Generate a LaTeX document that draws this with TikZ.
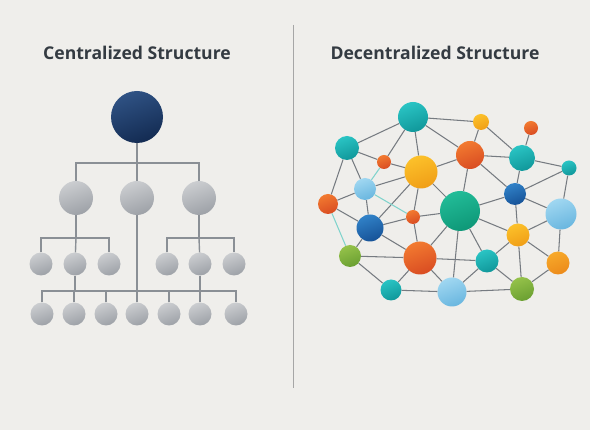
\documentclass[tikz,border=0pt]{standalone}
\usepackage{fontspec}
\setmainfont{Open Sans}
\definecolor{bgc}{HTML}{EFEEEB}
\definecolor{txt}{HTML}{343B42}
\definecolor{treeline}{HTML}{8A8F95}
\definecolor{netline}{HTML}{767B81}
\definecolor{tealline}{HTML}{7FD3CC}
\definecolor{navyT}{HTML}{2F5284}\definecolor{navyB}{HTML}{132B52}
\definecolor{grayT}{HTML}{CBCDD0}\definecolor{grayB}{HTML}{9DA1A7}
\definecolor{tealT}{HTML}{2AC4C4}\definecolor{tealB}{HTML}{10979A}
\definecolor{orngT}{HTML}{F27A30}\definecolor{orngB}{HTML}{D94C22}
\definecolor{yellT}{HTML}{FCC12A}\definecolor{yellB}{HTML}{F09E17}
\definecolor{ambrT}{HTML}{F7A92A}\definecolor{ambrB}{HTML}{EC8A1A}
\definecolor{lbluT}{HTML}{A0D7F1}\definecolor{lbluB}{HTML}{69B6DF}
\definecolor{dbluT}{HTML}{3182C8}\definecolor{dbluB}{HTML}{165297}
\definecolor{grenT}{HTML}{22BC98}\definecolor{grenB}{HTML}{0E9777}
\definecolor{limeT}{HTML}{95C24A}\definecolor{limeB}{HTML}{6A9F31}
\begin{document}
\begin{tikzpicture}[x=1pt,y=-1pt,
  ball/.style n args={3}{circle,inner sep=0pt,minimum size=#1,top color=#2,bottom color=#3,shading angle=20,draw=none},
  navy/.style={ball={#1}{navyT}{navyB}},
  grayb/.style={ball={#1}{grayT}{grayB}},
  teal/.style={ball={#1}{tealT}{tealB}},
  orng/.style={ball={#1}{orngT}{orngB}},
  yell/.style={ball={#1}{yellT}{yellB}},
  amber/.style={ball={#1}{ambrT}{ambrB}},
  lblue/.style={ball={#1}{lbluT}{lbluB}},
  dblue/.style={ball={#1}{dbluT}{dbluB}},
  green/.style={ball={#1}{grenT}{grenB}},
  lime/.style={ball={#1}{limeT}{limeB}},
  tl/.style={draw=treeline,line width=1.4pt},
  nl/.style={draw=netline,line width=1.05pt},
  tln/.style={draw=tealline,line width=1.05pt},
  title/.style={font=\fontsize{17.6}{20}\selectfont\bfseries,text=txt}
]
\fill[bgc] (0,0) rectangle (590,430);
\useasboundingbox (0,0) rectangle (590,430);

% titles and divider
\node[title] (t1) at (137,53) {Centralized Structure};
\node[title] (t2) at (435,53) {Decentralized Structure};
\coordinate (d1) at (293,25);
\coordinate (d2) at (293,388);
\draw[draw=gray!70,line width=1pt] (d1) -- (d2);

% ---------- centralized tree ----------
\node[navy=52pt] (root) at (137,117) {};
\node[grayb=34pt] (a1) at (76,198) {};
\node[grayb=34pt] (a2) at (137,198) {};
\node[grayb=34pt] (a3) at (199,198) {};
\node[grayb=23pt] (b1) at (41,264) {};
\node[grayb=23pt] (b2) at (75,264) {};
\node[grayb=23pt] (b3) at (109,264) {};
\node[grayb=23pt] (b4) at (167,264) {};
\node[grayb=23pt] (b5) at (200,264) {};
\node[grayb=23pt] (b6) at (234,264) {};
\foreach \i/\x in {1/42,2/74,3/106,4/137,5/169,6/200,7/236}
  \node[grayb=23pt] (c\i) at (\x,314) {};

\coordinate (j0) at (137,163);
\coordinate (j1) at (76,238);
\coordinate (j3) at (199,238);
\coordinate (jb) at (137,291);

\draw[tl] (root) -- (j0);
\draw[tl] (a1) |- (j0) -| (a3);
\draw[tl] (j0) -- (a2);
\draw[tl] (a1) -- (j1);
\draw[tl] (b1) |- (j1) -| (b3);
\draw[tl] (j1) -- (b2);
\draw[tl] (a3) -- (j3);
\draw[tl] (b4) |- (j3) -| (b6);
\draw[tl] (j3) -- (b5);
\draw[tl] (a2) -- (jb);
\draw[tl] (c1) |- (jb) -| (c7);
\foreach \i in {2,3,4,5,6} \draw[tl] (c\i) -- (c\i |- jb);
\draw[tl] (b2) -- (b2 |- jb);
\draw[tl] (b5) -- (b5 |- jb);

% ---------- decentralized network ----------
\node[teal=30pt]  (A) at (413,117) {};
\node[yell=16pt]  (B) at (481,122) {};
\node[orng=14pt]  (C) at (531,128) {};
\node[teal=24pt]  (D) at (347,148) {};
\node[orng=28pt]  (E) at (470,155) {};
\node[teal=26pt]  (F) at (522,158) {};
\node[orng=14pt]  (G) at (384,162) {};
\node[yell=33pt]  (H) at (421,172) {};
\node[teal=15pt]  (I) at (569,168) {};
\node[lblue=22pt] (J) at (365,189) {};
\node[dblue=22pt] (K) at (515,194) {};
\node[orng=20pt]  (L) at (328,204) {};
\node[green=40pt] (M) at (460,211) {};
\node[lblue=31pt] (N) at (561,214) {};
\node[orng=14pt]  (O) at (413,217) {};
\node[dblue=27pt] (P) at (370,228) {};
\node[yell=23pt]  (Q) at (518,235) {};
\node[lime=22pt]  (R) at (350,256) {};
\node[orng=33pt]  (S) at (420,258) {};
\node[teal=23pt]  (T) at (487,261) {};
\node[amber=23pt] (U) at (558,263) {};
\node[teal=21pt]  (V) at (391,290) {};
\node[lblue=29pt] (W) at (452,292) {};
\node[lime=24pt]  (X) at (522,289) {};

\foreach \a/\b in {A/D,A/B,A/G,A/H,A/E,B/E,B/F,C/F,D/G,D/J,D/L,G/H,J/H,J/L,J/P,
  H/E,H/P,H/O,H/M,E/F,E/K,E/M,F/K,F/I,I/K,I/N,K/M,K/N,K/Q,L/P,P/O,P/R,P/S,
  O/M,O/S,M/S,M/W,M/T,M/Q,N/Q,N/U,Q/T,Q/X,Q/U,R/S,R/V,S/V,S/W,S/T,V/W,W/T,
  W/X,T/X,X/U}
  \draw[nl] (\a) -- (\b);
\foreach \a/\b in {G/J,J/O,L/R}
  \draw[tln] (\a) -- (\b);
\end{tikzpicture}
\end{document}
